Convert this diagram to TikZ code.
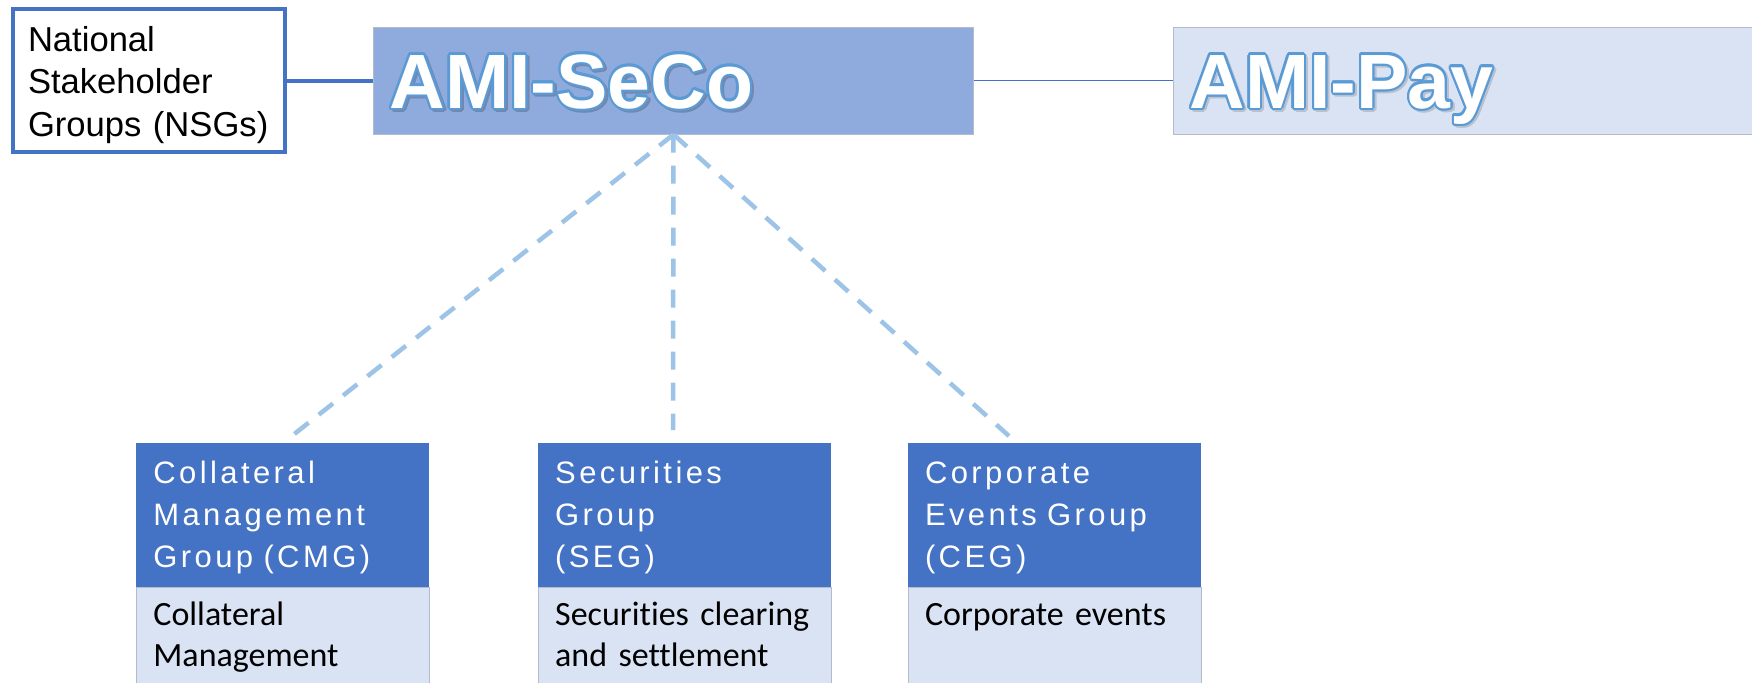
\documentclass[tikz,border=0pt]{standalone}
\usepackage{fontspec}
\setmainfont{Liberation Sans}
\newfontfamily\headfont[LetterSpace=11]{Liberation Sans}
\newfontfamily\bodyfont[Ligatures=NoCommon]{Carlito}
\usepackage[copies]{contour}
\usetikzlibrary{positioning}

\definecolor{HeadBlue}{HTML}{4472C4}
\definecolor{PaleBlue}{HTML}{DAE3F3}
\definecolor{SeCoBlue}{HTML}{8FAADC}
\definecolor{DashBlue}{HTML}{9DC3E6}
\definecolor{GlowBlue}{HTML}{5B9BD5}
\definecolor{FrameGrey}{HTML}{B4BCCB}

% outlined title with a small shadow
\newcommand{\amitext}[2]{%
  \rlap{\kern1pt\raisebox{-1pt}{\contourlength{1pt}\color{#1}\contour{#1}{#2}}}%
  {\contourlength{1.1pt}\color{white}\contour{GlowBlue}{#2}}}

\begin{document}
\begin{tikzpicture}[x=0.5pt, y=-0.5pt,
  nsgbox/.style={draw=HeadBlue, line width=2pt, fill=white, inner xsep=7.5pt, inner ysep=0pt,
    text width=121pt, align=left, text height=21pt, text depth=50.5pt,
    font=\fontsize{17.3}{21.25}\selectfont},
  amibox/.style={draw=FrameGrey, line width=0.5pt, inner xsep=8pt, inner ysep=0pt,
    text width=284pt, align=left, text height=40.5pt, text depth=13pt,
    font=\fontsize{38.5}{40}\selectfont\bfseries},
  groupbox/.style={fill=HeadBlue, text=white, inner xsep=8.5pt, inner ysep=0pt,
    text width=129.5pt, align=left, text height=20pt, text depth=52pt,
    font=\headfont\fontsize{15.5}{21}\selectfont},
  taskbox/.style={fill=PaleBlue, draw=FrameGrey, line width=0.4pt, inner xsep=8.5pt, inner ysep=0pt,
    text width=129.5pt, align=left, text height=19pt, text depth=50pt,
    font=\bodyfont\fontsize{17}{20.5}\selectfont},
  dashlink/.style={DashBlue, line width=2.25pt, dash pattern=on 9pt off 6.5pt}]

 \fill[white] (0,0) rectangle (1752,682);
 \useasboundingbox (0,0) rectangle (1752,682);

 %%%%%%%%%% Top row %%%%%%%%%%
 \node[nsgbox, anchor=base west] (nsg) at (11,51) {National\\Stakeholder\\\mbox{Groups (NSGs)}};
 \node[amibox, fill=SeCoBlue, anchor=base west] (seco) at (373,108) {\amitext{SeCoBlue!80!black}{AMI-SeCo}};
 \node[amibox, fill=PaleBlue, text width=300pt, right=99.5pt of seco] (pay) {\amitext{PaleBlue!85!black}{AMI-Pay}};

 \draw[HeadBlue, line width=2pt] (nsg.east) -- (seco.west);
 \draw[HeadBlue, line width=0.75pt] (seco.east) -- (pay.west);

 %%%%%%%%%% Groups %%%%%%%%%%
 \node[groupbox, anchor=base west] (cmg) at (136,483) {Collateral\\Management\\Group (CMG)};
 \node[groupbox, right=54pt of cmg] (seg) {Securities\\Group\\(SEG)};
 \node[groupbox, right=38pt of seg] (ceg) {Corporate\\Events Group\\(CEG)};

 \node[taskbox, below=0pt of cmg] (cmgtask) {Collateral\\Management};
 \node[taskbox, below=0pt of seg] (segtask) {Securities clearing\\and settlement};
 \node[taskbox, below=0pt of ceg] (cegtask) {Corporate events};

 %%%%%%%%%% Dashed links %%%%%%%%%%
 \coordinate (cmgtop) at (288,439);
 \coordinate (segtop) at (673,430);
 \coordinate (cegtop) at (1009,436);
 \foreach \t in {cmgtop,segtop,cegtop}
 {
   \draw[dashlink] (seco.south) -- (\t);
 }

\end{tikzpicture}
\end{document}
